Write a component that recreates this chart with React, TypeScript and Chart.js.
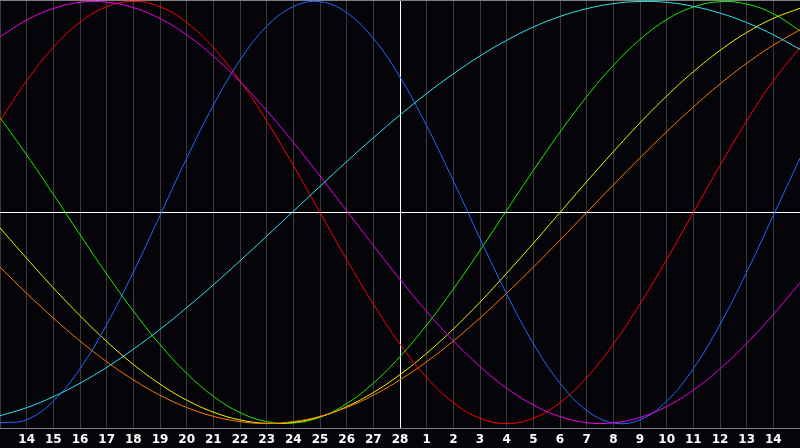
import React, { useEffect, useRef } from "react";
import { Chart, registerables } from "chart.js";

Chart.register(...registerables);

// Days shown along the bottom (13 and 15 at the edges are not labelled)
const days: string[] = [
  "13", "14", "15", "16", "17", "18", "19", "20", "21", "22", "23", "24", "25", "26", "27", "28",
  "1", "2", "3", "4", "5", "6", "7", "8", "9", "10", "11", "12", "13", "14", "15",
];

// Values, one per day (index 0 = day 13)
const blueSeries: number[] = [
  -0.997, -0.982, -0.894, -0.74, -0.531, -0.283, -0.014, 0.257, 0.508, 0.722, 0.882, 0.976, 0.999,
  0.947, 0.825, 0.642, 0.411, 0.15, -0.123, -0.386, -0.621, -0.809, -0.938, -0.997, -0.982, -0.894,
  -0.74, -0.531, -0.283, -0.014, 0.257,
];
const redSeries: number[] = [
  0.434, 0.624, 0.782, 0.901, 0.975, 1.0, 0.975, 0.901, 0.782, 0.624, 0.434, 0.223, 0.0, -0.223,
  -0.434, -0.624, -0.782, -0.901, -0.975, -1.0, -0.975, -0.901, -0.782, -0.624, -0.434, -0.223, 0.0,
  0.223, 0.434, 0.624, 0.782,
];
const magentaSeries: number[] = [
  0.833, 0.912, 0.967, 0.996, 0.997, 0.971, 0.919, 0.842, 0.741, 0.621, 0.483, 0.333, 0.173, 0.008,
  -0.156, -0.317, -0.469, -0.608, -0.73, -0.833, -0.912, -0.967, -0.996, -0.997, -0.971, -0.919,
  -0.842, -0.741, -0.621, -0.483, -0.333,
];
const cyanSeries: number[] = [
  -0.963, -0.925, -0.873, -0.809, -0.734, -0.648, -0.554, -0.451, -0.343, -0.229, -0.112, 0.006,
  0.124, 0.241, 0.354, 0.462, 0.564, 0.657, 0.742, 0.816, 0.879, 0.929, 0.966, 0.99, 1.0, 0.996,
  0.977, 0.945, 0.9, 0.842, 0.773,
];
const greenSeries: number[] = [
  0.45, 0.273, 0.086, -0.105, -0.291, -0.467, -0.626, -0.762, -0.871, -0.948, -0.991, -0.998,
  -0.97, -0.906, -0.809, -0.683, -0.533, -0.363, -0.18, 0.01, 0.199, 0.381, 0.549, 0.697, 0.82,
  0.914, 0.974, 0.999, 0.988, 0.942, 0.861,
];
const yellowSeries: number[] = [
  -0.073, -0.217, -0.357, -0.489, -0.611, -0.72, -0.813, -0.889, -0.946, -0.983, -0.999, -0.994,
  -0.968, -0.92, -0.853, -0.768, -0.667, -0.552, -0.425, -0.288, -0.146, 0.0, 0.146, 0.288, 0.425,
  0.552, 0.667, 0.768, 0.853, 0.92, 0.968,
];
const orangeSeries: number[] = [
  -0.259, -0.383, -0.5, -0.609, -0.707, -0.793, -0.866, -0.924, -0.966, -0.991, -1.0, -0.991,
  -0.966, -0.924, -0.866, -0.793, -0.707, -0.609, -0.5, -0.383, -0.259, -0.131, 0.0, 0.131, 0.259,
  0.383, 0.5, 0.609, 0.707, 0.793, 0.866,
];

const Y_MIN = -1.0213;
const Y_MAX = 1.0071;
const CENTER_DAY_INDEX = 15;

export default function App() {
  const canvasRef = useRef<HTMLCanvasElement | null>(null);

  useEffect(() => {
    document.body.style.margin = "0";
    document.body.style.background = "#050408";
    const canvas = canvasRef.current;
    if (!canvas) return;

    const mk = (data: number[], color: string) => ({
      data,
      borderColor: color,
      backgroundColor: color,
      borderWidth: 1,
      pointRadius: 0,
      pointHoverRadius: 0,
      tension: 0.4,
      fill: false,
    });

    const chart = new Chart(canvas, {
      type: "line",
      data: {
        labels: days,
        datasets: [
          mk(cyanSeries, "#30e4ee"),
          mk(magentaSeries, "#ee00ee"),
          mk(redSeries, "#ff0000"),
          mk(blueSeries, "#1e6cff"),
          mk(orangeSeries, "#ff7800"),
          mk(yellowSeries, "#f4f400"),
          mk(greenSeries, "#22ee00"),
        ],
      },
      options: {
        responsive: false,
        animation: false,
        devicePixelRatio: 1,
        layout: { padding: 0 },
        plugins: {
          legend: { display: false },
          tooltip: { enabled: false },
        },
        events: [],
        scales: {
          x: {
            type: "category",
            offset: false,
            afterFit: (scale: any) => {
              scale.height = 20;
              scale.paddingLeft = 0;
              scale.paddingRight = 0;
            },
            grid: {
              drawTicks: false,
              lineWidth: 1,
              color: (ctx: any) =>
                ctx.index === CENTER_DAY_INDEX ? "#ffffff" : "#3a3a3a",
            },
            border: { display: true, color: "#808080", width: 1 },
            ticks: {
              autoSkip: false,
              maxRotation: 0,
              minRotation: 0,
              padding: 5,
              color: "#ffffff",
              font: { family: "DejaVu Sans", size: 12, weight: "bold" },
              callback: (_v: any, i: number) =>
                i === 0 || i === days.length - 1 ? "" : days[i],
            },
          },
          y: {
            min: Y_MIN,
            max: Y_MAX,
            afterFit: (scale: any) => {
              scale.width = 0;
              scale.paddingTop = 0;
              scale.paddingBottom = 0;
            },
            afterBuildTicks: (scale: any) => {
              scale.ticks = [{ value: Y_MIN }, { value: 0 }, { value: Y_MAX }];
            },
            grid: {
              drawTicks: false,
              lineWidth: 1,
              color: (ctx: any) =>
                ctx.tick && ctx.tick.value === 0 ? "#ffffff" : "#808080",
            },
            border: { display: false },
            ticks: { display: false },
          },
        },
      },
    });

    return () => {
      chart.destroy();
    };
  }, []);

  return (
    <div style={{ width: 800, height: 448, background: "#050408" }}>
      <canvas ref={canvasRef} width={800} height={448} style={{ display: "block" }} />
    </div>
  );
}
